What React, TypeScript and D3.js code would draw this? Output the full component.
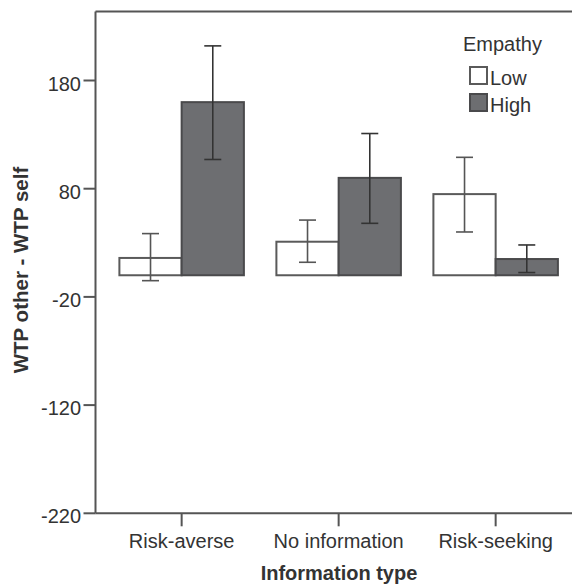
import React from "react";
import * as d3 from "d3";

const categories = ["Risk-averse", "No information", "Risk-seeking"];
const groups = ["Low", "High"];
const lowMeans = [16, 31, 75];
const lowUpper = [38.5, 51, 109];
const lowLower = [-5, 12, 40];
const highMeans = [160, 90, 15];
const highUpper = [212, 131, 28];
const highLower = [107, 48, 2.5];
const yTicks = [180, 80, -20, -120, -220];

const W = 572;
const H = 584;
const FONT = "'Liberation Sans', Arial, sans-serif";

export default function App() {
  const y = d3.scaleLinear().domain([-220, 180]).range([513.3, 80.5]);
  const x0 = d3
    .scaleBand<string>()
    .domain(categories)
    .range([96, 581.3])
    .paddingInner(0.207)
    .paddingOuter(0.149);
  const x1 = d3.scaleBand<string>().domain(groups).range([0, x0.bandwidth()]);

  const series = [
    { key: "Low", means: lowMeans, up: lowUpper, lo: lowLower, fill: "#ffffff", stroke: "#5a5a5a", err: "#555555" },
    { key: "High", means: highMeans, up: highUpper, lo: highLower, fill: "#6d6e71", stroke: "#4a4a4c", err: "#333333" },
  ];

  const left = 95.5;
  const bottom = y(-220);
  const top = y(243.8);
  const textColor = "#333333";

  return (
    <svg width={W} height={H} style={{ position: "absolute", left: 0, top: 0 }} fontFamily={FONT}>
      <rect x={0} y={0} width={W} height={H} fill="#ffffff" />
      {series.map((s) =>
        categories.map((c, i) => {
          const bx = (x0(c) ?? 0) + (x1(s.key) ?? 0);
          const bw = x1.bandwidth();
          const v = s.means[i];
          const yTop = y(Math.max(0, v));
          const yBot = y(Math.min(0, v));
          return (
            <rect
              key={s.key + c}
              x={bx}
              y={yTop}
              width={bw}
              height={yBot - yTop}
              fill={s.fill}
              stroke={s.stroke}
              strokeWidth={2}
            />
          );
        })
      )}
      {series.map((s) =>
        categories.map((c, i) => {
          const cx = (x0(c) ?? 0) + (x1(s.key) ?? 0) + x1.bandwidth() / 2;
          const yu = y(s.up[i]);
          const yl = y(s.lo[i]);
          const hw = 8.5;
          return (
            <g key={"e" + s.key + c} stroke={s.err} strokeWidth={1.6} fill="none">
              <line x1={cx} x2={cx} y1={yu} y2={yl} />
              <line x1={cx - hw} x2={cx + hw} y1={yu} y2={yu} />
              <line x1={cx - hw} x2={cx + hw} y1={yl} y2={yl} />
            </g>
          );
        })
      )}
      <g stroke="#555555" strokeWidth={2} fill="none">
        <line x1={left} x2={left} y1={top} y2={bottom} />
        <line x1={left} x2={W + 2} y1={bottom} y2={bottom} />
        <line x1={left} x2={W + 2} y1={top} y2={top} />
      </g>
      {yTicks.map((t) => (
        <g key={"yt" + t}>
          <line x1={left - 12} x2={left} y1={y(t)} y2={y(t)} stroke="#555555" strokeWidth={2} />
          <text x={81} y={y(t) + 10} textAnchor="end" fontSize={20} fill={textColor}>
            {t}
          </text>
        </g>
      ))}
      {categories.map((c) => {
        const cx = (x0(c) ?? 0) + x0.bandwidth() / 2;
        return (
          <g key={"xt" + c}>
            <line x1={cx} x2={cx} y1={bottom} y2={bottom + 13} stroke="#555555" strokeWidth={2} />
            <text x={cx} y={548} textAnchor="middle" fontSize={20} fill={textColor}>
              {c}
            </text>
          </g>
        );
      })}
      <text x={339} y={580} textAnchor="middle" fontSize={20} fontWeight="bold" fill={textColor}>
        Information type
      </text>
      <text
        transform={`translate(28,270) rotate(-90)`}
        textAnchor="middle"
        fontSize={20.5}
        fontWeight="bold"
        fill={textColor}
      >
        WTP other - WTP self
      </text>
      <text x={463} y={51} fontSize={20} fill={textColor}>
        Empathy
      </text>
      {series.map((s, i) => (
        <g key={"lg" + s.key}>
          <rect x={470} y={67 + i * 27} width={17} height={17} fill={s.fill} stroke={s.stroke} strokeWidth={2} />
          <text x={490} y={85 + i * 27} fontSize={20} fill={textColor}>
            {s.key}
          </text>
        </g>
      ))}
    </svg>
  );
}
